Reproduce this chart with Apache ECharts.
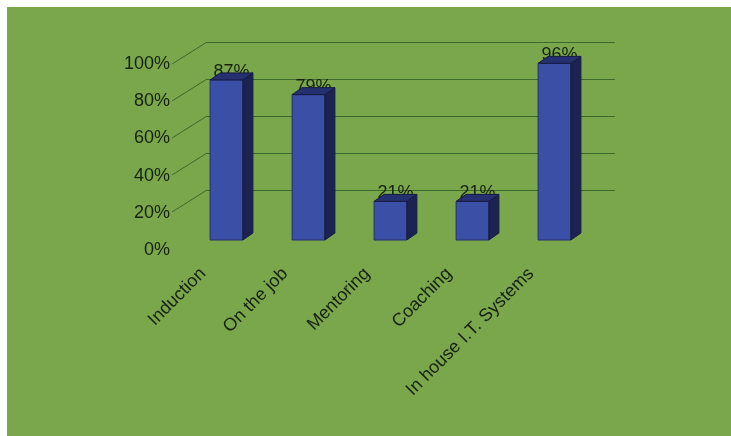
<!DOCTYPE html>
<html>
<head>
<meta charset="utf-8">
<script src="https://cdn.jsdelivr.net/npm/echarts@6/dist/echarts.min.js"></script>
<style>
html,body{margin:0;padding:0;background:#ffffff;}
#chart{width:731px;height:436px;}
</style>
</head>
<body>
<div id="chart"></div>
<script>
const categories = ['Induction', 'On the job', 'Mentoring', 'Coaching', 'In house I.T. Systems'];
const values = [87, 79, 21, 21, 96];
const yTicks = [0, 20, 40, 60, 80, 100];

const FONT = '"Liberation Sans", Arial, sans-serif';
const TEXT = '#16220e';
const GRIDLINE = '#3c6a2a';
const DEPTH_DX = 10, DEPTH_DY = -7;        // bar depth offset
const WALL_DX = -35, WALL_DY = 22;         // back wall -> front edge offset

const chart = echarts.init(document.getElementById('chart'), null, {renderer: 'canvas'});

function renderBar(params, api) {
  const idx = api.value(0), v = api.value(1);
  const base = api.coord([idx, 0]);
  const top = api.coord([idx, v]);
  const bw = api.size([1, 0])[0] * 0.4;
  const l = base[0] - bw / 2, r = base[0] + bw / 2, yb = base[1], yt = top[1];
  return {
    type: 'group',
    children: [
      {type: 'text', style: {text: v + '%', x: base[0] + DEPTH_DX / 2, y: yt + 1,
        align: 'center', verticalAlign: 'bottom', fill: TEXT, font: '18px ' + FONT}},
      {type: 'rect', shape: {x: l, y: yt, width: bw, height: yb - yt},
        style: {fill: '#3c4fa6', stroke: '#26306e', lineWidth: 1}},
      {type: 'polygon', shape: {points: [[r, yt], [r + DEPTH_DX, yt + DEPTH_DY], [r + DEPTH_DX, yb + DEPTH_DY], [r, yb]]},
        style: {fill: '#1b2352', stroke: '#161c40', lineWidth: 1}},
      {type: 'polygon', shape: {points: [[l, yt], [l + DEPTH_DX, yt + DEPTH_DY], [r + DEPTH_DX, yt + DEPTH_DY], [r, yt]]},
        style: {fill: '#243070', stroke: '#161c40', lineWidth: 1}}
    ]
  };
}

function renderDiag(params, api) {
  const v = api.value(0);
  const p = api.coord([0, v]);
  return {type: 'line', shape: {x1: p[0], y1: p[1], x2: p[0] + WALL_DX, y2: p[1] + WALL_DY},
    style: {stroke: GRIDLINE, lineWidth: 1}};
}

const lineColors = yTicks.map(t => t === 0 ? 'rgba(0,0,0,0)' : GRIDLINE);

chart.setOption({
  animation: false,
  backgroundColor: '#ffffff',
  graphic: [{type: 'rect', left: 7, top: 7, shape: {width: 724, height: 429}, style: {fill: '#7aa74b'}, z: -10}],
  grid: [
    {left: 207, top: 42, width: 408, height: 185},   // back wall
    {left: 185.5, top: 56, width: 410, height: 184}, // bar plane
    {left: 174, top: 64, width: 410, height: 186},   // front edge (value labels)
    {left: 162, top: 64, width: 410, height: 186}    // category labels
  ],
  xAxis: [
    {gridIndex: 0, type: 'value', min: 0, max: 5, show: false},
    {gridIndex: 1, type: 'category', data: categories, show: false},
    {gridIndex: 2, type: 'category', data: categories, show: false},
    {gridIndex: 3, type: 'category', data: categories,
      axisLine: {show: false}, axisTick: {show: false}, splitLine: {show: false},
      axisLabel: {rotate: 45, margin: 21, interval: 0, color: TEXT, fontSize: 18, fontFamily: FONT}}
  ],
  yAxis: [
    {gridIndex: 0, type: 'value', min: 0, max: 100, interval: 20,
      axisLine: {show: false}, axisTick: {show: false}, axisLabel: {show: false},
      splitLine: {show: true, lineStyle: {color: lineColors, width: 1}}},
    {gridIndex: 1, type: 'value', min: 0, max: 100, show: false},
    {gridIndex: 2, type: 'value', min: 0, max: 100, interval: 20,
      axisLine: {show: false}, axisTick: {show: false}, splitLine: {show: false},
      axisLabel: {margin: 4, color: TEXT, fontSize: 18, fontFamily: FONT, formatter: '{value}%'}},
    {gridIndex: 3, type: 'value', min: 0, max: 100, show: false}
  ],
  series: [
    {type: 'custom', xAxisIndex: 0, yAxisIndex: 0, renderItem: renderDiag,
      data: yTicks.filter(t => t > 0).map(t => [t]), encode: {x: -1, y: 0}, silent: true},
    {type: 'custom', xAxisIndex: 1, yAxisIndex: 1, renderItem: renderBar,
      data: values.map((v, i) => [i, v]), encode: {x: 0, y: 1}}
  ]
});
</script>
</body>
</html>
